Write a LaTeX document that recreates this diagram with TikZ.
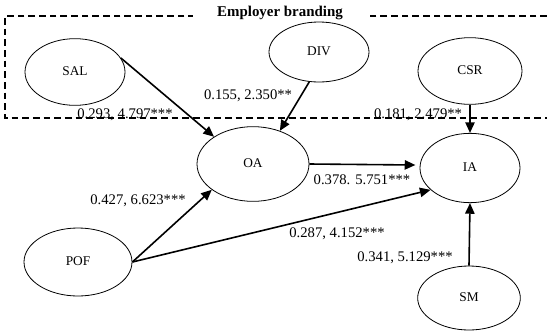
\documentclass[tikz,border=0pt]{standalone}
\usepackage{fontspec}
\setmainfont{Liberation Serif}
\usetikzlibrary{positioning, arrows.meta, shapes.geometric}

\begin{document}
\begin{tikzpicture}[
  x=0.75pt, y=-0.75pt,
  construct/.style={draw, ellipse, line width=0.6pt, minimum width=75pt, minimum height=50pt,
                    inner sep=0pt, text depth=2pt, font=\fontsize{10}{12}\selectfont},
  arr/.style={-{Triangle[length=8pt, width=7pt]}, line width=1.2pt},
  coef/.style={font=\fontsize{11}{13}\selectfont, inner sep=1pt},
  gbox/.style={dashed, dash pattern=on 5pt off 3pt, line width=0.8pt},
  gtitle/.style={font=\fontsize{11.2}{13}\selectfont\bfseries, fill=white, inner xsep=18pt, inner ysep=1pt},
]
\useasboundingbox (0,0) rectangle (547,333);

% ---- Employer branding group ----
\draw[gbox] (547,16) -- (5,16) -- (5,118) -- (547,118);
\node[gtitle] (eb) at (280,13) {Employer branding};

% ---- Constructs ----
\node[construct] (SAL) at (75,72) {SAL};
\node[construct, minimum height=45pt] (DIV) at (319,52) {DIV};
\node[construct, minimum width=78pt] (CSR) at (470,71) {CSR};
\node[construct, minimum width=84pt, minimum height=56pt] (OA) at (253,164) {OA};
\node[construct, minimum height=52pt] (IA) at (470,168) {IA};
\node[construct, minimum width=81pt, minimum height=51pt] (POF) at (78,262) {POF};
\node[construct, minimum width=77pt, minimum height=48pt] (SM) at (469,298) {SM};

% ---- Paths ----
\draw[arr] (SAL.17) -- (OA.145);
\draw[arr] (DIV.252) -- (OA.51);
\draw[arr] (CSR.south) -- (IA.north);
\draw[arr] (OA.east) -- ++(106,1);
\draw[arr] (POF.east) -- (OA.212);
\draw[arr] (POF.east) -- (IA.209);
\draw[arr] (SM.north) -- (IA.south);

% ---- Path coefficients ----
\node[coef] (c1) at (125,115) {0.293, 4.797***};
\node[coef] (c2) at (248,96) {0.155, 2.350**};
\node[coef] (c3) at (418,115) {0.181, 2.479**};
\node[coef] (c4) at (362,180) {0.378. 5.751***};
\node[coef] (c5) at (138,201) {0.427, 6.623***};
\node[coef] (c6) at (337,234) {0.287, 4.152***};
\node[coef] (c7) at (405,258) {0.341, 5.129***};

\end{tikzpicture}
\end{document}
